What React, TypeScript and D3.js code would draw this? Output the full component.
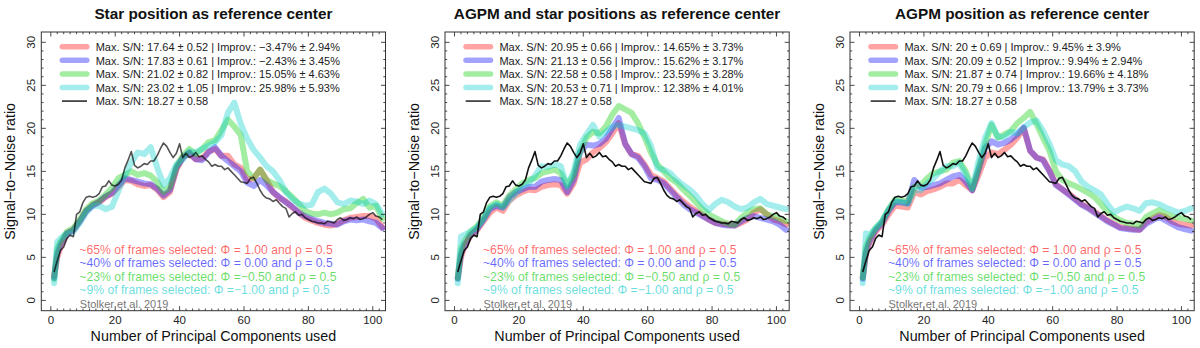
import React from 'react';
import * as d3 from 'd3';

// principal components at which the coloured curves were read
const PCS = [1, 2, 3, 5, 7, 9, 11, 13, 15, 17, 19, 21, 23, 25, 27, 29, 31, 33, 35, 37, 39, 41, 43, 45, 47, 49,
  51, 53, 55, 57, 59, 61, 63, 65, 67, 69, 71, 73, 75, 77, 79, 81, 83, 85, 87, 89, 91, 93, 95, 97, 99, 101, 103];

// Stolker et al. 2019 reference curve (one value per PC, 1..103), same in all panels
const REF_SN = [
  3.3, 4.6, 5.8, 6.2, 7.2, 7.6, 7.4, 10.0, 10.3, 11.4,
  12.0, 12.1, 12.0, 12.1, 12.4, 13.2, 13.3, 13.9, 13.4, 13.3,
  13.5, 14.0, 15.4, 16.3, 17.3, 15.7, 15.4, 15.6, 15.9, 15.8,
  16.2, 16.2, 16.8, 17.6, 18.3, 17.9, 17.2, 16.6, 17.1, 18.2,
  16.6, 17.1, 16.6, 16.8, 17.2, 16.7, 16.8, 16.4, 16.1, 15.6,
  15.8, 15.6, 15.6, 15.2, 15.4, 15.0, 14.6, 14.2, 13.8, 13.7,
  13.6, 14.2, 14.3, 13.6, 12.8, 12.2, 11.9, 11.8, 11.5, 11.7,
  11.3, 10.9, 10.7, 9.7, 10.1, 10.3, 9.9, 10.0, 9.6, 9.4,
  9.2, 9.1, 9.0, 9.0, 8.9, 9.2, 9.1, 9.0, 9.4, 9.6,
  9.3, 9.4, 9.6, 9.5, 9.7, 9.4, 9.5, 9.7, 10.0, 10.2,
  9.8, 9.7, 9.4,
];
const REF_PCS = d3.range(1, REF_SN.length + 1);

// panel 1: star position as reference center
const STAR_65 = [2.8, 5.0, 6.2, 7.8, 8.2, 9.2, 10.4, 11.1, 11.4, 12.0, 12.4, 13.2, 14.0, 13.9, 13.5, 13.3, 13.4, 12.9, 12.0, 12.6,
  15.2, 16.6, 17.1, 16.4, 16.5, 17.3, 17.6, 16.8, 16.8, 15.8, 15.4, 14.0, 14.2, 15.2, 14.0, 12.6, 11.9, 11.5, 10.8, 10.2,
  9.6, 9.3, 9.0, 8.8, 8.7, 8.9, 9.3, 9.6, 9.7, 9.8, 9.8, 9.5, 8.5];
const STAR_40 = [2.6, 5.5, 6.5, 7.8, 8.2, 9.2, 10.4, 11.0, 11.5, 12.1, 12.5, 13.4, 14.2, 14.0, 13.8, 13.6, 13.5, 13.0, 12.2, 12.8,
  15.4, 16.6, 17.2, 16.4, 16.3, 17.2, 17.8, 16.8, 16.2, 15.6, 15.0, 13.7, 13.3, 14.0, 13.4, 12.6, 12.0, 11.4, 10.9, 10.2,
  9.8, 9.5, 9.2, 9.0, 8.9, 8.8, 9.2, 9.4, 9.3, 9.4, 9.2, 9.0, 8.4];
const STAR_23 = [2.5, 6.0, 6.8, 8.0, 8.4, 9.4, 10.6, 11.3, 11.6, 12.3, 13.1, 14.2, 14.6, 15.0, 14.6, 14.8, 14.5, 13.8, 12.6, 13.2,
  15.6, 16.8, 17.6, 17.0, 17.6, 18.4, 18.6, 19.8, 21.0, 20.2, 19.2, 15.0, 14.2, 15.2, 14.0, 13.6, 13.3, 12.7, 12.0, 11.2,
  10.4, 10.1, 10.0, 10.2, 10.0, 10.2, 10.6, 10.7, 11.3, 11.8, 10.8, 11.0, 9.5];
const STAR_09 = [2.0, 6.8, 7.2, 7.8, 8.0, 9.0, 10.2, 11.0, 11.0, 10.6, 10.9, 12.7, 14.6, 16.0, 17.2, 17.0, 17.8, 15.5, 13.4, 14.2,
  15.8, 16.4, 17.3, 17.2, 17.6, 18.0, 18.4, 19.2, 21.8, 23.0, 20.5, 18.8, 17.5, 16.6, 15.6, 15.0, 14.0, 12.6, 11.8, 11.3,
  11.0, 11.1, 12.6, 13.0, 12.4, 11.4, 11.2, 11.6, 11.5, 11.2, 11.6, 11.2, 10.0];

// panel 2: AGPM and star positions as reference center
const BOTH_65 = [2.6, 5.0, 6.2, 7.6, 8.2, 9.2, 10.2, 10.8, 10.4, 11.6, 12.2, 12.6, 12.9, 12.8, 13.2, 13.4, 13.5, 13.4, 12.4, 13.6,
  16.0, 16.4, 17.2, 17.7, 18.4, 19.4, 20.6, 18.2, 17.0, 16.8, 15.8, 14.6, 14.2, 13.8, 13.0, 12.2, 11.5, 10.9, 10.4, 9.9,
  9.4, 9.0, 8.9, 8.8, 8.7, 9.0, 9.4, 10.2, 10.6, 10.0, 9.4, 9.2, 8.8];
const BOTH_40 = [2.5, 5.4, 6.4, 7.6, 8.3, 9.4, 10.6, 11.0, 10.8, 12.0, 12.6, 12.9, 13.2, 13.2, 13.8, 14.0, 14.1, 14.0, 12.6, 14.0,
  17.2, 18.1, 18.0, 18.2, 18.8, 20.0, 21.2, 18.2, 17.0, 16.6, 15.6, 14.2, 14.0, 13.6, 12.8, 12.0, 11.2, 10.6, 10.2, 9.8,
  9.4, 9.0, 8.8, 8.7, 8.7, 9.2, 9.6, 9.8, 9.6, 9.4, 9.2, 8.8, 8.2];
const BOTH_23 = [2.6, 6.0, 6.8, 8.0, 8.6, 9.6, 10.9, 11.4, 11.0, 12.2, 12.9, 13.6, 14.0, 14.2, 14.8, 15.0, 15.2, 14.8, 13.4, 14.6,
  17.3, 18.9, 19.6, 19.4, 20.2, 21.6, 22.6, 22.2, 21.8, 20.6, 19.0, 17.2, 15.8, 15.0, 14.2, 13.7, 12.9, 12.2, 11.4, 10.6,
  10.0, 9.6, 9.2, 8.9, 8.8, 9.6, 10.2, 10.6, 10.7, 10.0, 9.8, 9.5, 9.2];
const BOTH_09 = [2.0, 7.4, 7.6, 8.0, 8.5, 9.4, 10.8, 11.2, 10.8, 11.6, 12.4, 13.2, 13.6, 14.5, 15.6, 15.5, 15.8, 15.6, 13.2, 15.0,
  18.1, 19.3, 20.4, 19.0, 19.6, 20.2, 20.4, 20.2, 20.0, 19.8, 19.4, 18.0, 15.4, 15.2, 14.8, 14.0, 13.4, 12.9, 12.2, 11.2,
  10.5, 11.2, 11.7, 11.4, 10.9, 10.6, 10.8, 11.4, 11.8, 11.2, 11.0, 10.8, 10.6];

// panel 3: AGPM position as reference center
const AGPM_65 = [2.6, 5.4, 6.6, 8.0, 8.8, 10.0, 11.0, 10.9, 10.8, 12.6, 12.3, 12.7, 12.9, 13.2, 13.6, 13.6, 14.0, 13.4, 12.8, 14.6,
  16.6, 17.2, 17.0, 17.5, 18.1, 18.9, 20.0, 17.4, 16.6, 16.4, 15.1, 13.5, 12.9, 12.4, 11.8, 11.2, 10.8, 10.3, 9.8, 9.3,
  8.9, 8.5, 8.4, 8.3, 8.2, 9.1, 9.5, 9.9, 9.7, 9.2, 8.9, 8.8, 8.7];
const AGPM_40 = [2.5, 5.6, 6.8, 8.2, 9.0, 10.4, 11.4, 11.4, 11.3, 14.0, 13.1, 13.2, 13.4, 13.6, 14.0, 14.4, 14.6, 13.8, 12.8, 15.2,
  17.7, 18.5, 18.1, 18.3, 18.7, 19.3, 20.1, 17.4, 16.6, 16.3, 15.0, 13.4, 12.9, 12.3, 11.7, 11.1, 10.7, 10.2, 9.7, 9.2,
  8.8, 8.4, 8.3, 8.2, 8.2, 8.9, 9.3, 9.7, 9.3, 8.9, 8.5, 8.3, 8.1];
const AGPM_23 = [2.7, 6.2, 7.2, 8.4, 9.2, 10.6, 11.7, 11.6, 11.5, 13.2, 13.4, 14.2, 14.8, 15.0, 15.2, 16.0, 16.2, 15.0, 13.0, 15.4,
  18.1, 20.4, 18.9, 19.3, 19.7, 20.6, 21.2, 21.9, 20.5, 18.9, 17.4, 15.0, 14.0, 13.6, 13.3, 12.9, 12.5, 12.0, 11.2, 10.3,
  9.7, 9.3, 9.0, 8.9, 8.7, 9.7, 10.1, 10.5, 10.1, 9.8, 9.6, 9.5, 9.3];
const AGPM_09 = [2.0, 7.8, 7.6, 8.4, 9.2, 10.5, 11.6, 11.4, 11.2, 12.8, 12.8, 13.6, 14.2, 15.0, 15.6, 15.6, 16.0, 14.6, 13.0, 16.2,
  18.9, 20.6, 19.0, 19.0, 19.6, 19.4, 20.1, 20.7, 20.9, 19.7, 18.2, 16.3, 15.8, 15.6, 15.0, 13.8, 13.2, 12.8, 12.3, 11.2,
  10.2, 10.6, 10.9, 10.7, 10.4, 11.3, 11.4, 11.2, 10.8, 10.5, 10.2, 10.4, 10.7];

const STAR_LEGEND = [
  'Max. S/N: 17.64 ± 0.52 | Improv.: −3.47% ± 2.94%',
  'Max. S/N: 17.83 ± 0.61 | Improv.: −2.43% ± 3.45%',
  'Max. S/N: 21.02 ± 0.82 | Improv.: 15.05% ± 4.63%',
  'Max. S/N: 23.02 ± 1.05 | Improv.: 25.98% ± 5.93%',
];
const BOTH_LEGEND = [
  'Max. S/N: 20.95 ± 0.66 | Improv.: 14.65% ± 3.73%',
  'Max. S/N: 21.13 ± 0.56 | Improv.: 15.62% ± 3.17%',
  'Max. S/N: 22.58 ± 0.58 | Improv.: 23.59% ± 3.28%',
  'Max. S/N: 20.53 ± 0.71 | Improv.: 12.38% ± 4.01%',
];
const AGPM_LEGEND = [
  'Max. S/N: 20 ± 0.69 | Improv.: 9.45% ± 3.9%',
  'Max. S/N: 20.09 ± 0.52 | Improv.: 9.94% ± 2.94%',
  'Max. S/N: 21.87 ± 0.74 | Improv.: 19.66% ± 4.18%',
  'Max. S/N: 20.79 ± 0.66 | Improv.: 13.79% ± 3.73%',
];
const REF_LEGEND = 'Max. S/N: 18.27 ± 0.58';

const SELECTIONS = [
  '~65% of frames selected: Φ = 1.00 and ρ = 0.5',
  '~40% of frames selected: Φ = 0.00 and ρ = 0.5',
  '~23% of frames selected: Φ =−0.50 and ρ = 0.5',
  '~9% of frames selected: Φ =−1.00 and ρ = 0.5',
];
const CREDIT = 'Stolker et al. 2019';

const X_TICKS = [0, 20, 40, 60, 80, 100];
const Y_TICKS = [0, 5, 10, 15, 20, 25, 30];

const LINE_COLORS = ['rgba(255,0,0,0.36)', 'rgba(0,0,255,0.36)', 'rgba(0,205,0,0.36)', 'rgba(0,205,205,0.36)'];
const TEXT_COLORS = ['rgba(255,0,0,0.6)', 'rgba(0,0,255,0.6)', 'rgba(0,200,0,0.6)', 'rgba(0,200,200,0.6)'];
const FONT = '"Liberation Sans", Arial, Helvetica, sans-serif';

const PW = 344.2;
const TOP = 32;
const BOTTOM = 310.7;

type PanelProps = {
  title: string;
  left: number;
  series: number[][];
  legend: string[];
  refColor: string;
};

const Panel = ({ title, left, series, legend, refColor }: PanelProps) => {
  const x = d3.scaleLinear().domain([-2.96, 103.96]).range([left, left + PW]);
  const y = d3.scaleLinear().domain([-1.2, 31.2]).range([BOTTOM, TOP]);
  const cx = left + PW / 2;

  const colLine = d3.line<number>().x((_, i) => x(PCS[i])).y(d => y(d));
  const refLine = d3.line<number>().x((_, i) => x(REF_PCS[i])).y(d => y(d));

  const xMinor = d3.range(0, 104, 2);
  const yMinor = d3.range(0, 31, 1);

  return (
    <g>
      <text x={cx} y={18.5} textAnchor="middle" fontSize={15.3} fontWeight="bold" fill="#111">{title}</text>

      {series.map((s, i) => (
        <path key={i} d={colLine(s) || ''} fill="none" stroke={LINE_COLORS[i]} strokeWidth={6}
          strokeLinejoin="round" strokeLinecap="round" />
      ))}
      <path d={refLine(REF_SN) || ''} fill="none" stroke={refColor} strokeWidth={1.6} strokeLinejoin="round" />

      {/* frame and inward ticks */}
      <rect x={left} y={TOP} width={PW} height={BOTTOM - TOP} fill="none" stroke="#333" strokeWidth={1} />
      {xMinor.map(t => {
        const major = t % 20 === 0;
        const len = major ? 4.5 : 2.2;
        return (
          <g key={'x' + t} stroke="#333" strokeWidth={0.9}>
            <line x1={x(t)} x2={x(t)} y1={BOTTOM} y2={BOTTOM - len} />
            <line x1={x(t)} x2={x(t)} y1={TOP} y2={TOP + len} />
          </g>
        );
      })}
      {yMinor.map(t => {
        const major = t % 5 === 0;
        const len = major ? 4.5 : 2.2;
        return (
          <g key={'y' + t} stroke="#333" strokeWidth={0.9}>
            <line x1={left} x2={left + len} y1={y(t)} y2={y(t)} />
            <line x1={left + PW} x2={left + PW - len} y1={y(t)} y2={y(t)} />
          </g>
        );
      })}
      {X_TICKS.map(t => (
        <text key={'xl' + t} x={x(t)} y={324} textAnchor="middle" fontSize={11.5} fill="#222">{t}</text>
      ))}
      {Y_TICKS.map(t => (
        <text key={'yl' + t} transform={`translate(${left - 6.5},${y(t)}) rotate(-90)`} textAnchor="middle"
          fontSize={11.5} fill="#222">{t}</text>
      ))}

      <text x={cx} y={340.5} textAnchor="middle" fontSize={14.3} fill="#111">Number of Principal Components used</text>
      <text transform={`translate(${left - 26.3},${(TOP + BOTTOM) / 2}) rotate(-90)`} textAnchor="middle"
        fontSize={14.3} fill="#111">Signal−to−Noise ratio</text>

      {/* legend */}
      {legend.map((l, i) => {
        const ry = 46.7 + i * 13.6;
        return (
          <g key={'lg' + i}>
            <line x1={left + 21} x2={left + 45.5} y1={ry} y2={ry} stroke={LINE_COLORS[i]} strokeWidth={5.5}
              strokeLinecap="round" />
            <text x={left + 54.4} y={ry + 4.2} fontSize={11} fill="#222">{l}</text>
          </g>
        );
      })}
      <line x1={left + 20.7} x2={left + 45.7} y1={46.7 + 4 * 13.6} y2={46.7 + 4 * 13.6} stroke="#444"
        strokeWidth={1.8} />
      <text x={left + 54.4} y={46.7 + 4 * 13.6 + 4.2} fontSize={11} fill="#222">{REF_LEGEND}</text>

      {/* selection annotations */}
      {SELECTIONS.map((s, i) => (
        <text key={'sel' + i} x={left + 38} y={253.5 + i * 13.5} fontSize={12.2} fill={TEXT_COLORS[i]}>{s}</text>
      ))}
      <text x={left + 38.5} y={307.8} fontSize={11} fill="#777">{CREDIT}</text>
    </g>
  );
};

const App = () => {
  return (
    <svg width={1200} height={348} style={{ position: 'absolute', left: 0, top: 0, background: '#fff' }}
      fontFamily={FONT}>
      <rect width={1200} height={348} fill="#fff" />
      <Panel title="Star position as reference center" left={41.3} refColor="rgba(0,0,0,0.68)"
        series={[STAR_65, STAR_40, STAR_23, STAR_09]} legend={STAR_LEGEND} />
      <Panel title="AGPM and star positions as reference center" left={445} refColor="#111"
        series={[BOTH_65, BOTH_40, BOTH_23, BOTH_09]} legend={BOTH_LEGEND} />
      <Panel title="AGPM position as reference center" left={850} refColor="#111"
        series={[AGPM_65, AGPM_40, AGPM_23, AGPM_09]} legend={AGPM_LEGEND} />
    </svg>
  );
};

export default App;
